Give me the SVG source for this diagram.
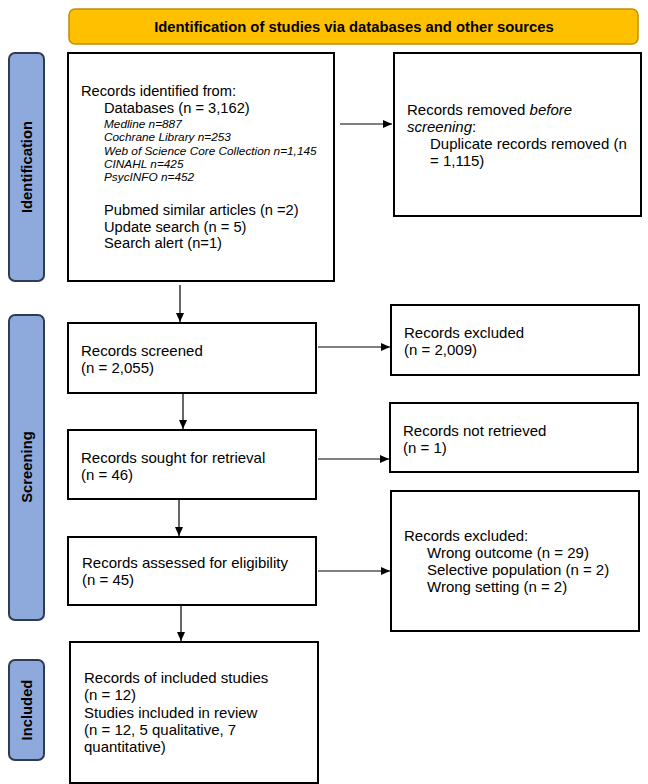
<svg xmlns="http://www.w3.org/2000/svg" width="648" height="784" viewBox="0 0 648 784">
<style>
text{font-family:"Liberation Sans",Arial,sans-serif;font-size:15px;fill:#000}
.box{fill:#fff;stroke:#000;stroke-width:2}
.side{fill:#8EA9DB;stroke:#2F3B52;stroke-width:2}
.sl{font-weight:bold;font-size:14.8px;text-anchor:middle}
.it{font-style:italic;font-size:11.8px}
.c{stroke:#000;stroke-width:1.2;fill:none;marker-end:url(#ah)}
</style>
<defs>
<marker id="ah" markerWidth="10" markerHeight="10" refX="9" refY="5" orient="auto" markerUnits="userSpaceOnUse">
<path d="M0,1 L9,5 L0,9 Z" fill="#000"/>
</marker>
</defs>
<rect width="648" height="784" fill="#fff"/>
<g id="title">
<rect x="69" y="9" width="569" height="35" rx="6" fill="#FFC000" stroke="#BF9000" stroke-width="1.5"/>
<text x="354" y="32" class="sl">Identification of studies via databases and other sources</text>
</g>
<g id="lab-identification">
<rect x="9" y="53" width="35" height="228" rx="6" class="side"/>
<text class="sl" transform="translate(32,167) rotate(-90)">Identification</text>
</g>
<g id="lab-screening">
<rect x="9" y="315" width="35" height="305" rx="6" class="side"/>
<text class="sl" transform="translate(32,467) rotate(-90)">Screening</text>
</g>
<g id="lab-included">
<rect x="9" y="660" width="35" height="100" rx="6" class="side"/>
<text class="sl" transform="translate(32,710) rotate(-90)">Included</text>
</g>
<g id="identified">
<rect x="68" y="53" width="266" height="228" class="box"/>
<text x="81" y="96" style="font-size:14.7px">Records identified from:</text>
<text x="104" y="113" style="font-size:14.7px">Databases (n = 3,162)</text>
<text x="104" y="128" class="it">Medline n=887</text>
<text x="104" y="141" class="it">Cochrane Library n=253</text>
<text x="104" y="155" class="it">Web of Science Core Collection n=1,145</text>
<text x="104" y="168" class="it">CINAHL n=425</text>
<text x="104" y="181" class="it">PsycINFO n=452</text>
<text x="104" y="215" style="font-size:14.7px">Pubmed similar articles (n =2)</text>
<text x="104" y="232" style="font-size:14.7px">Update search (n = 5)</text>
<text x="104" y="248" style="font-size:14.7px">Search alert (n=1)</text>
</g>
<g id="removed">
<rect x="394" y="53" width="247" height="163" class="box"/>
<text x="407" y="115">Records removed <tspan font-style="italic">before</tspan></text>
<text x="407" y="132"><tspan font-style="italic">screening</tspan>:</text>
<text x="430" y="149">Duplicate records removed (n</text>
<text x="430" y="166">= 1,115)</text>
</g>
<g id="screened">
<rect x="68" y="323" width="248" height="70" class="box"/>
<text x="81" y="356">Records screened</text>
<text x="81" y="373">(n = 2,055)</text>
</g>
<g id="excluded1">
<rect x="391" y="305" width="248" height="70" class="box"/>
<text x="404" y="338">Records excluded</text>
<text x="404" y="355">(n = 2,009)</text>
</g>
<g id="sought">
<rect x="68" y="430" width="248" height="69" class="box"/>
<text x="81" y="463">Records sought for retrieval</text>
<text x="81" y="480">(n = 46)</text>
</g>
<g id="notretrieved">
<rect x="390" y="403" width="248" height="69" class="box"/>
<text x="403" y="436">Records not retrieved</text>
<text x="403" y="453">(n = 1)</text>
</g>
<g id="assessed">
<rect x="68" y="537" width="248" height="68" class="box"/>
<text x="82" y="568">Records assessed for eligibility</text>
<text x="82" y="585">(n = 45)</text>
</g>
<g id="excluded2">
<rect x="391" y="491" width="248" height="140" class="box"/>
<text x="404" y="541">Records excluded:</text>
<text x="427" y="558">Wrong outcome (n = 29)</text>
<text x="427" y="575">Selective population (n = 2)</text>
<text x="427" y="592">Wrong setting (n = 2)</text>
</g>
<g id="included">
<rect x="70" y="642" width="248" height="141" class="box"/>
<text x="84" y="683">Records of included studies</text>
<text x="84" y="700">(n = 12)</text>
<text x="84" y="718">Studies included in review</text>
<text x="84" y="735">(n = 12, 5 qualitative, 7</text>
<text x="84" y="752">quantitative)</text>
</g>
<g id="connectors">
<line x1="340" y1="124" x2="392" y2="124" class="c"/>
<line x1="180" y1="285" x2="180" y2="322" class="c"/>
<line x1="318" y1="347" x2="390" y2="347" class="c"/>
<line x1="183" y1="394" x2="183" y2="429" class="c"/>
<line x1="318" y1="459" x2="389" y2="459" class="c"/>
<line x1="179" y1="500" x2="179" y2="536" class="c"/>
<line x1="318" y1="571" x2="390" y2="571" class="c"/>
<line x1="181" y1="606" x2="181" y2="641" class="c"/>
</g>
</svg>
